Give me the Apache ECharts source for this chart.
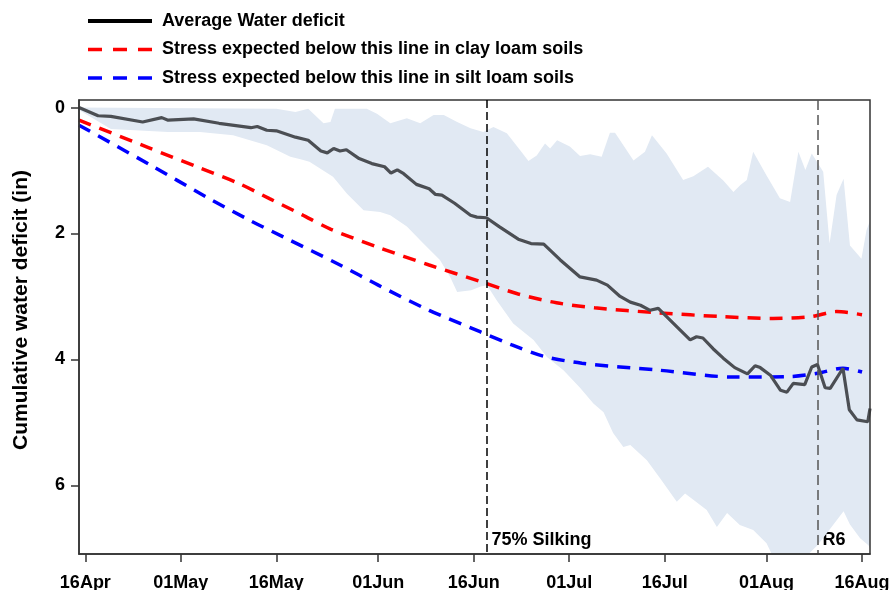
<!DOCTYPE html>
<html>
<head>
<meta charset="utf-8">
<script src="https://cdn.jsdelivr.net/npm/echarts@6/dist/echarts.min.js"></script>
<style>
  html, body { margin: 0; padding: 0; background: #fff; }
  #chart { width: 892px; height: 590px; }
</style>
</head>
<body>
<div id="chart"></div>
<script>
// days counted from 16 Apr (day 0)
const tickDays = [0, 15, 30, 46, 61, 76, 91, 107, 122]
const tickLabels = ['16Apr', '01May', '16May', '01Jun', '16Jun', '01Jul', '16Jul', '01Aug', '16Aug']
const yTicks = [0, 2, 4, 6]

// average water deficit (in)
const avgDays = [-1, 2, 4, 9, 12, 13, 17, 21, 26, 27, 28.5, 30, 33, 35, 37, 38, 39, 40, 41, 43, 45, 47, 48, 49, 50,
  52, 54, 55, 56, 58, 60.5, 61.5, 63, 65, 68, 70, 72, 74.6, 77.7, 80.3, 82, 84, 85.6, 87.2, 88.7, 90, 91.3,
  93.4, 95, 96, 97, 98.6, 100.2, 102, 104, 105.2, 106, 107.6, 109.2, 110.2, 111.2, 113, 114.1, 115, 116.2,
  117, 119, 120, 121.2, 122.9, 123.25]
const avgDeficit = [0.0, 0.13, 0.14, 0.23, 0.16, 0.2, 0.18, 0.25, 0.32, 0.30, 0.36, 0.37, 0.47, 0.52, 0.69, 0.72,
  0.65, 0.69, 0.67, 0.81, 0.89, 0.94, 1.04, 0.99, 1.05, 1.22, 1.29, 1.38, 1.39, 1.52, 1.71, 1.74, 1.75, 1.89,
  2.09, 2.16, 2.17, 2.42, 2.69, 2.74, 2.82, 3.0, 3.09, 3.14, 3.22, 3.19, 3.32, 3.53, 3.69, 3.64, 3.66, 3.83,
  3.98, 4.13, 4.23, 4.10, 4.13, 4.25, 4.49, 4.52, 4.38, 4.40, 4.12, 4.08, 4.45, 4.46, 4.14, 4.80, 4.96, 4.99, 4.78]

// stress thresholds
const clayDays = [-1, 10, 18, 24, 29, 34, 38.5, 46, 54, 62, 68, 74, 80, 90, 100, 108, 114, 118, 122]
const clayDeficit = [0.2, 0.64, 0.96, 1.2, 1.45, 1.7, 1.93, 2.22, 2.5, 2.76, 2.96, 3.1, 3.18, 3.26, 3.32, 3.35,
  3.32, 3.24, 3.29]
const siltDays = [-1, 10, 19, 26, 31, 40, 46, 54, 62, 67, 72, 78, 90, 102, 111, 115, 119, 122]
const siltDeficit = [0.28, 0.9, 1.42, 1.8, 2.05, 2.5, 2.82, 3.22, 3.56, 3.77, 3.95, 4.06, 4.17, 4.28, 4.27, 4.22,
  4.14, 4.20]

// range band: upper edge (least deficit)
const bandTopDays = [-1, 30, 33, 35, 37.4, 38.5, 39.2, 44.2, 45.8, 47.9, 50.5, 52.6, 54.7, 56.3, 58.4, 60.5, 62.5,
  64.1, 66.2, 68.3, 69.6, 70.9, 72.2, 73, 74.1, 76.1, 77.7, 79.3, 81.1, 82.4, 83.2, 86.1, 87.9, 89, 91.3,
  93.9, 95.5, 97.8, 100.2, 101.8, 102.9, 103.9, 104.9, 107, 109.1, 110.7, 112, 113.1, 114.1, 115.9, 116.9,
  118, 119.1, 120.1, 121.9, 122.7, 123.25]
const bandTopValues = [0, 0.02, 0.07, 0.02, 0.25, 0.23, 0.02, 0.02, 0.1, 0.25, 0.17, 0.25, 0.12, 0.12, 0.23, 0.33,
  0.39, 0.31, 0.41, 0.68, 0.85, 0.76, 0.57, 0.65, 0.52, 0.62, 0.77, 0.74, 0.78, 0.4, 0.4, 0.84, 0.7, 0.44,
  0.73, 1.15, 1.09, 0.94, 1.16, 1.34, 1.23, 1.15, 0.7, 1.08, 1.44, 1.5, 0.7, 0.99, 0.73, 1.02, 2.16, 1.39,
  1.13, 2.19, 2.4, 1.95, 1.8]
// range band: lower edge (most deficit)
const bandBottomDays = [-1, 4, 13, 18, 23.2, 28.5, 32.2, 33.8, 35.2, 38.9, 41.1, 43.7, 46.3, 47.9, 50.5, 53.1,
  55.7, 57.3, 58.4, 60.6, 62.1, 63.1, 64.6, 67.2, 70.4, 72.5, 75.1, 77.7, 79.8, 81.4, 82.9, 84.5, 85.6, 88.2,
  90.3, 92.9, 94.2, 95.5, 97.6, 99.2, 100.8, 102.8, 104.9, 107, 108.1, 111, 113, 115, 116.4, 119.1, 120.1,
  121.7, 123, 123.25]
const bandBottomValues = [0.04, 0.34, 0.39, 0.39, 0.44, 0.6, 0.78, 0.82, 0.86, 1.1, 1.37, 1.63, 1.66, 1.71, 1.89,
  2.16, 2.42, 2.69, 2.93, 2.9, 2.84, 2.82, 3.06, 3.43, 3.69, 3.96, 4.17, 4.45, 4.7, 4.84, 5.17, 5.39, 5.36,
  5.6, 5.89, 6.26, 6.13, 6.23, 6.39, 6.66, 6.44, 6.63, 6.71, 6.92, 7.15, 7.3, 7.15, 6.95, 6.77, 6.41, 6.62,
  6.84, 6.95, 7.0]

// growth stage markers
const stageDays = [63, 115]
const stageNames = ['75% Silking', 'R6']

const zip = (xs, ys) => xs.map((x, i) => [x, ys[i]])

const FONT = '"Liberation Sans", Arial, sans-serif'
const tickStyle = { color: '#333', width: 1.5 }

const myChart = echarts.init(document.getElementById('chart'))

const options = {
  animation: false,
  legend: {
    orient: 'vertical',
    left: 81,
    top: 7,
    itemWidth: 64,
    itemHeight: 14,
    itemGap: 10.5,
    itemStyle: { opacity: 0 },
    textStyle: { fontFamily: FONT, fontWeight: 'bold', fontSize: 18, color: '#000', padding: [0, 0, 0, 5] },
    data: [
      { name: 'Average Water deficit', lineStyle: { color: '#000', width: 4 } },
      { name: 'Stress expected below this line in clay loam soils', lineStyle: { width: 3.5, type: [14, 11] } },
      { name: 'Stress expected below this line in silt loam soils', lineStyle: { width: 3.5, type: [14, 11] } }
    ]
  },
  grid: {
    left: 79, right: 22, top: 100, bottom: 36,
    outerBoundsMode: 'none',
    show: true, z: 5, backgroundColor: 'transparent', borderColor: '#333', borderWidth: 1.5
  },
  xAxis: {
    type: 'value',
    min: -1,
    max: 123.25,
    z: 10,
    axisLine: { show: true, onZero: false, lineStyle: tickStyle },
    axisTick: { show: true, customValues: tickDays, length: 8, lineStyle: tickStyle },
    axisLabel: {
      customValues: tickDays,
      formatter: v => tickLabels[tickDays.indexOf(v)],
      margin: 20,
      fontFamily: FONT,
      fontWeight: 'bold',
      fontSize: 18,
      color: '#000'
    },
    splitLine: { show: false }
  },
  yAxis: {
    type: 'value',
    inverse: true,
    min: -0.12,
    max: 7.09,
    z: 10,
    name: 'Cumulative water deficit (in)',
    nameLocation: 'middle',
    nameGap: 47,
    nameTextStyle: { fontFamily: FONT, fontWeight: 'bold', fontSize: 21, color: '#000', padding: [0, 0, 0, 34] },
    axisLine: { show: true, onZero: false, lineStyle: tickStyle },
    axisTick: { show: true, customValues: yTicks, length: 8, lineStyle: tickStyle },
    axisLabel: {
      customValues: yTicks,
      margin: 14,
      fontFamily: FONT,
      fontWeight: 'bold',
      fontSize: 18,
      color: '#000'
    },
    splitLine: { show: false }
  },
  series: [
    {
      name: 'band',
      type: 'line',
      data: zip(bandBottomDays, bandBottomValues),
      symbol: 'none',
      silent: true,
      lineStyle: { opacity: 0 },
      areaStyle: { color: '#e1e9f3', opacity: 1, origin: 'start' }
    },
    {
      name: 'bandTop',
      type: 'line',
      data: zip(bandTopDays, bandTopValues),
      symbol: 'none',
      silent: true,
      lineStyle: { opacity: 0 },
      areaStyle: { color: '#fff', opacity: 1, origin: 'start' }
    },
    {
      name: 'Stress expected below this line in clay loam soils',
      type: 'line',
      data: zip(clayDays, clayDeficit),
      symbol: 'none',
      smooth: 0.3,
      color: '#ff0000',
      lineStyle: { color: '#ff0000', width: 3.5, type: [13, 9] }
    },
    {
      name: 'Stress expected below this line in silt loam soils',
      type: 'line',
      data: zip(siltDays, siltDeficit),
      symbol: 'none',
      smooth: 0.3,
      color: '#0000ff',
      lineStyle: { color: '#0000ff', width: 3.5, type: [13, 9] }
    },
    {
      name: 'Average Water deficit',
      type: 'line',
      data: zip(avgDays, avgDeficit),
      symbol: 'none',
      color: '#000',
      lineStyle: { color: '#4b4e53', width: 3.2 },
      markLine: {
        silent: true,
        symbol: 'none',
        label: { show: false },
        data: [
          { xAxis: stageDays[0], lineStyle: { color: '#000', width: 1.5, type: [8, 4] } },
          { xAxis: stageDays[1], lineStyle: { color: '#555', width: 1.5, type: [10, 5] } }
        ]
      }
    },
    {
      name: 'stages',
      type: 'scatter',
      symbolSize: 0,
      silent: true,
      itemStyle: { opacity: 1 },
      data: stageDays.map((d, i) => ({ value: [d, 6.87], name: stageNames[i] })),
      label: {
        show: true,
        position: 'right',
        distance: 5,
        formatter: p => p.name,
        fontFamily: FONT,
        fontWeight: 'bold',
        fontSize: 18,
        color: '#000',
        opacity: 1
      }
    }
  ]
}

myChart.setOption(options)
</script>
</body>
</html>
